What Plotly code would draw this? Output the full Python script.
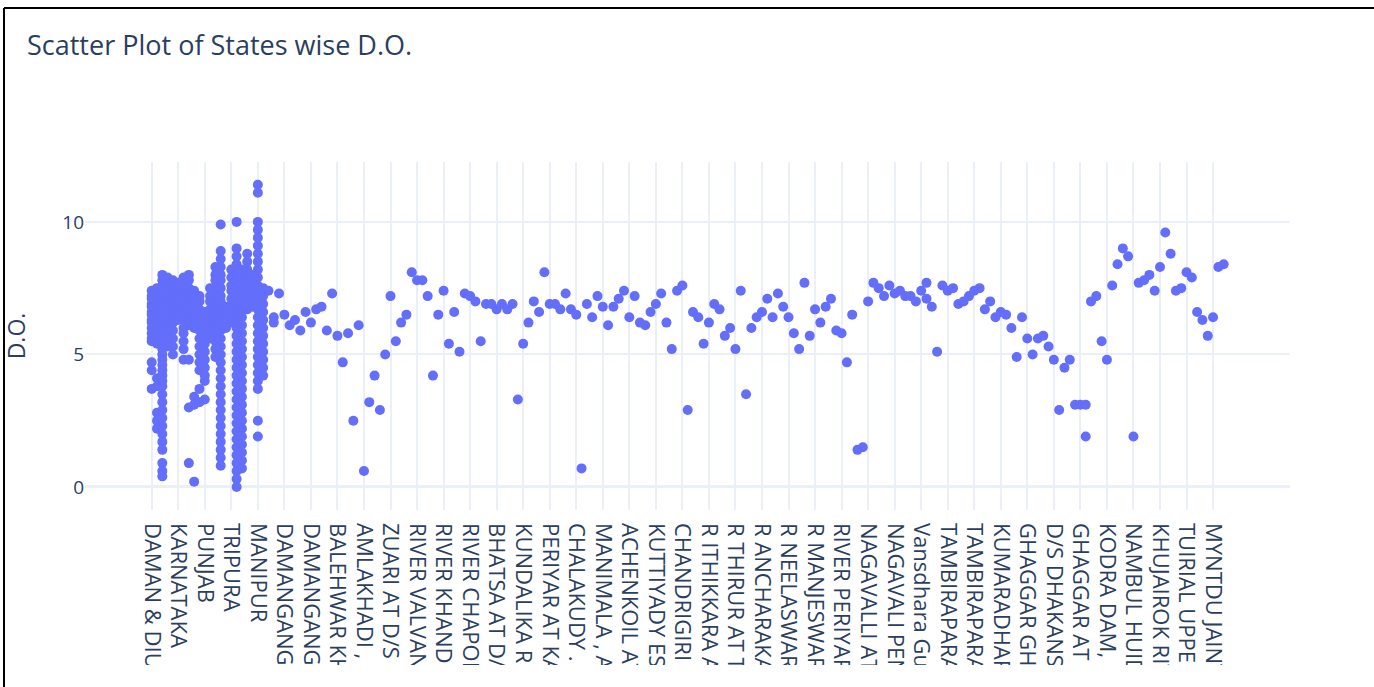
import plotly.graph_objects as go

# ---- State-level sampling columns (many readings per state) ----
state_names = [
    "DAMAN & DIU", "GOA", "MAHARASHTRA", "GUJARAT", "KERALA",
    "KARNATAKA", "TAMILNADU", "ANDHRA PRADESH", "ODISHA", "HIMACHAL PRADESH",
    "PUNJAB", "HARYANA", "RAJASTHAN", "WEST BENGAL", "ASSAM",
    "TRIPURA", "MEGHALAYA", "MIZORAM", "NAGALAND", "ARUNACHAL PRADESH",
    "MANIPUR", "SIKKIM",
]
state_do = [
    [7.4, 7.2, 7.1, 6.9, 6.8, 6.6, 6.5, 6.3, 6.2, 6.0, 5.8, 5.6, 5.5, 4.7, 4.4, 3.7],
    [7.5, 7.3, 7.0, 6.8, 6.6, 6.4, 6.1, 5.9, 5.7, 5.4, 4.1, 3.8, 2.8, 2.5, 2.2],
    [8.0, 7.8, 7.6, 7.4, 7.2, 7.0, 6.8, 6.6, 6.4, 6.2, 6.0, 5.8, 5.6, 5.4, 5.2, 5.0,
     4.8, 4.6, 4.4, 4.2, 4.0, 3.8, 3.5, 3.2, 2.9, 2.6, 2.3, 2.0, 1.7, 1.4, 0.9, 0.6, 0.4],
    [7.9, 7.7, 7.5, 7.2, 7.0, 6.8, 6.6, 6.4, 6.1, 5.9, 5.6, 5.3],
    [7.8, 7.6, 7.3, 7.1, 6.9, 6.6, 6.4, 6.2, 5.9, 5.6, 5.3, 5.0],
    [7.7, 7.5, 7.3, 7.1, 6.9, 6.7, 6.5, 6.3],
    [7.9, 7.6, 7.4, 7.2, 7.0, 6.8, 6.5, 6.3, 6.0, 5.8, 5.5, 5.2, 4.8],
    [8.0, 7.8, 7.5, 7.3, 7.0, 6.8, 6.6, 6.3, 6.1, 4.8, 3.0, 0.9],
    [7.4, 7.2, 7.0, 6.8, 6.5, 6.3, 6.0, 3.4, 3.1, 0.2],
    [7.2, 7.0, 6.7, 6.4, 6.2, 5.9, 5.6, 5.3, 5.0, 4.7, 4.4, 3.7, 3.2],
    [6.6, 6.3, 6.0, 5.7, 5.4, 5.1, 4.8, 4.5, 4.2, 4.0, 3.3],
    [7.5, 7.2, 7.0, 6.7, 6.5, 6.2, 5.9, 5.6],
    [8.3, 8.0, 7.8, 7.5, 7.3, 7.0, 6.8, 6.6, 6.3, 6.1, 5.8, 5.5, 5.2, 4.9],
    [9.9, 8.9, 8.6, 8.3, 8.0, 7.8, 7.5, 7.2, 7.0, 6.7, 6.5, 6.2, 5.9, 5.6, 5.3, 5.0,
     4.7, 4.4, 4.1, 3.8, 3.5, 3.2, 2.9, 2.6, 2.3, 2.0, 1.7, 1.4, 1.1, 0.8],
    [6.8, 6.5, 6.2, 6.0],
    [8.2, 7.9, 7.6, 7.4, 7.1, 6.8, 6.5, 6.2],
    [10.0, 9.0, 8.7, 8.4, 8.1, 7.8, 7.5, 7.2, 6.9, 6.6, 6.3, 6.0, 5.7, 5.4, 5.1, 4.8,
     4.5, 4.2, 3.9, 3.6, 3.3, 3.0, 2.7, 2.4, 2.1, 1.8, 1.5, 1.2, 0.9, 0.6, 0.3, 0.0],
    [8.2, 7.9, 7.6, 7.3, 7.0, 6.7, 6.4, 6.1, 5.8, 5.5, 5.2, 4.9, 4.6, 4.3, 4.0, 3.7,
     3.4, 3.1, 2.8, 2.5, 2.2, 1.9, 1.6, 1.3, 1.0, 0.7],
    [8.8, 8.5, 8.2, 7.9, 7.6, 7.3, 7.0, 6.7],
    [8.0, 7.7, 7.4, 7.1, 6.8],
    [11.4, 11.1, 10.0, 9.7, 9.4, 9.1, 8.8, 8.5, 8.2, 7.9, 7.6, 7.3, 7.0, 6.7, 6.4, 6.1,
     5.8, 5.5, 5.2, 4.9, 4.6, 4.3, 4.0, 3.7, 2.5, 1.9],
    [7.5, 7.2, 6.9, 6.6, 6.3, 6.0, 5.7, 5.4, 5.1, 4.8, 4.5, 4.2],
]

# ---- Individual monitoring locations (one or two readings each) ----
station_names = [
    "DADRA & NAGAR HAVELI", "PUDUCHERRY", "LAKSHADWEEP",
    "DAMANGANGA AT D/S OF MADHUBAN, DAMAN", "KOLAK AT VAPI", "PAR AT PARDI", "AURANGA AT BILIMORA", "PURNA AT NAVSARI",
    "DAMANGANGA AT KACHIGAM, DAMAN", "MINDHOLA AT SACHIN", "TAPI AT SURAT", "KIM AT SAHOL", "NARMADA AT BHARUCH",
    "BALEHWAR KHADI AT SURAT", "MAHI AT KHANPUR", "SABARMATI AT AHMEDABAD", "KHARI AT LALI", "BHADAR AT JETPUR",
    "AMLAKHADI , ANKLESHWAR", "MANDOVI AT PANAJI", "MAPUSA AT MAPUSA", "SAL AT ORLIM", "TALPONA AT CANACONA",
    "ZUARI AT D/S OF PT. WHERE KUMBARJRIA CANAL JOINS ZUARI", "RIVER KUMBARJUA AT CORTALIM", "RIVER MANDOVI AT AMONA",
    "RIVER SINQUERIM AT SINQUERIM", "RIVER ASSONORA AT ASSONORA",
    "RIVER VALVANTI AT SANKHALI", "RIVER BICHOLIM AT BICHOLIM", "RIVER TIRACOL AT TIRACOL",
    "RIVER GALJIBAG AT GALJIBAG", "RIVER SAL AT KHARIWADO",
    "RIVER KHANDEPAR AT OPA", "RIVER MADEI AT USGAO", "RIVER MANDOVI AT NEGHBOUR",
    "RIVER DUDHSAGAR AT DUDHSAGAR", "RIVER ZUARI AT PANCHAWADI",
    "RIVER CHAPORA AT ALORNA", "ULHAS AT MOHANE", "KALU AT ATALE", "VAITARNA AT GHOTI", "PATALGANGA AT KHALAPUR",
    "BHATSA AT D/S OF PISE DAM", "AMBA AT NAGOTHANE", "SAVITRI AT MAHAD", "VASHISHTI AT CHIPLUN", "GODAVARI AT NASIK",
    "KUNDALIKA RIVER AT ROHA", "BHARATHAPUZHA AT PATTAMBI", "CHALIYAR AT KOOLIMADU",
    "KALLADA AT PATHANAPURAM", "PAMBA AT THIRUVALLA",
    "PERIYAR AT KALADY", "MEENACHIL AT PALAI", "MUVATTUPUZHA AT PIRAVOM",
    "KARAMANA AT MOONNATTUMUKKU", "KALLAI AT KALLAI",
    "CHALAKUDY . AT VETTUKADAVU", "KARUVANNUR AT ILLIKKAL", "KECHERI AT KECHERI",
    "PUZHAKKAL AT PUZHAKKAL", "KADALUNDI AT KADALUNDI",
    "MANIMALA , AT KALLOOPPARA", "PAMBA AT PAMBA", "VAMANAPURAM AT VAMANAPURAM",
    "NEYYAR AT NEYYATTINKARA", "KALLADA AT KOLLAM",
    "ACHENKOIL AT THUMPAMON", "VALAPATTANAM AT VALAPATTANAM", "ANJARAKANDY AT KANNUR",
    "MAHE AT MAHE", "KORAPUZHA AT ELATHUR",
    "KUTTIYADY ESTUARY", "MOGRAL AT MOGRAL", "KARIANGODE AT KARIANGODE",
    "UPPALA AT UPPALA", "SHIRIYA AT SHIRIYA",
    "CHANDRIGIRI AT CHEMNAD", "R PERUVAMBA AT PERUVAMBA", "R RAMAPURAM AT RAMAPURAM",
    "R KAVVAYI AT KAVVAYI", "R THEJASWINI AT NILESHWAR",
    "R ITHIKKARA AYOOR", "R KALLADA AT KUNNATHUR", "R PALLIKKAL AT PALLIKKAL",
    "R BHAVANI AT MUKKALI", "R KABINI AT MANANTHAVADY",
    "R THIRUR AT THIRUR", "R PONNANI AT PONNANI", "R KEECHERY AT KUNNAMKULAM",
    "R VALAPATTANAM AT IRIKKUR", "R BAVALI AT BAVALI",
    "R ANCHARAKANDY AT ANCHARAKANDY", "R KUPPAM AT KUPPAM", "R PERUMBA AT PAYYANUR",
    "R KARINGODE AT CHERUPUZHA", "R CHITHARI AT CHITHARI",
    "R NEELASWARAM AT NEELASWARAM", "R KUMBALA AT KUMBALA", "R MOGRAL AT ERIYAL",
    "R SHIRIYA AT ANGADIMOGAR", "R UPPALA AT MANJESWAR",
    "R MANJESWARAM AT MANJESWARAM", "RIVER MUVATTUPUZHA AT VETTIKKATTUMUKKU", "RIVER KALLAR AT PONMUDI",
    "RIVER THODUPUZHA AT THODUPUZHA", "RIVER KARUVANNUR AT KARUVANNUR",
    "RIVER PERIYAR AT ALUVA", "GOSTHANI AT TAGARAPUVALASA", "CHAMPAVATHI AT NELLIMARLA",
    "SUVARNAMUKHI AT SALUR", "VEGAVATHI AT BOBBILI",
    "NAGAVALLI AT THOTAPALLI", "JANJHAVATHI AT RAJYALAKSHMIPURAM", "MAHENDRATANAYA AT PATAPATNAM",
    "BAHUDA AT ICHAPURAM", "VAMSADHARA AT KASHINAGAR",
    "NAGAVALI PENTA BRIDGE", "RUSHIKULYA AT ASKA", "BANSADHARA AT MUNIGUDA",
    "INDRAVATI AT NAWARANGPUR", "KOLAB AT JEYPORE",
    "Vansdhara Gunupur", "PALAR AT VANIYAMBADI", "CAUVERY AT METTUR",
    "BHAVANI AT BHAVANISAGAR", "VAIGAI AT MADURAI",
    "TAMBIRAPARANI AT PAPANASAM", "NOYYAL AT ORATHUPALAYAM", "AMARAVATHI AT KARUR",
    "VAIGAI AT PARAMAKUDI", "SARABANGA AT OMALUR",
    "TAMBIRAPARANI AT TIRUNELVELI", "NETRAVATHI AT BANTWAL", "GURUPURA AT MANGALORE",
    "SHARAVATHI AT HONNAVAR", "KALI AT KARWAR",
    "KUMARADHARA AT UPPINANGADY", "SITANADI AT UDUPI", "SWARNA AT UDUPI",
    "AGHANASHINI AT KUMTA", "GANGAVALI AT ANKOLA",
    "GHAGGAR GHAGGAR AT CHANDIMANDIR", "MARKANDA AT KALA AMB", "SUKHNA CHOE AT TIWANA",
    "PATIALA KI RAO AT SKETRI", "TANGRI AT AMBALA",
    "D/S DHAKANSU NALLAH, GHAGGAR", "SARSUTI AT PEHOWA", "YAMUNA AT HATHNIKUND",
    "WESTERN YAMUNA CANAL AT YAMUNANAGAR", "SUTLEJ AT ROPAR",
    "GHAGGAR AT MUBARAKPUR", "GHAGGAR AT SARDULGARH", "DRAIN NO. 8 AT SONEPAT",
    "SAHIBI AT REWARI", "KRISHNAWATI AT NARNAUL",
    "KODRA DAM, UDAIPUR", "IMPHAL AT MINUTHONG", "IRIL AT LILONG",
    "THOUBAL AT THOUBAL", "LOKTAK LAKE AT SENDRA",
    "NAMBUL HUIDROM", "NAMBUL AT BIJOY GOVINDA", "IMPHAL AT LILONG",
    "WANGJING AT WANGJING", "SEKMAI AT SEKMAI",
    "KHUJAIROK RIVER AT KHUJAIROK", "TLAWNG AT SAIRANG", "TUIRINI AT KHAMRANG",
    "MAT AT SERCHHIP", "TUIVAWL AT BAIDUR",
    "TUIRIAL UPPER AT AIZAWL", "UMIAM AT UMIAM", "UMKHRAH AT SHILLONG",
    "UMSHYRPI AT SHILLONG", "KYRHUHKHLA AT JOWAI",
    "MYNTDU JAINTIA HILLS AT JOWAI", "LUKHA AT KHLIEHRIAT", "UMNGOT AT DAWKI",
]
station_do = [
    [7.4], [6.4, 6.2], [7.3],
    [6.5], [6.1], [6.3], [5.9], [6.6],
    [6.2], [6.7], [6.8], [5.9], [7.3],
    [5.7], [4.7], [5.8], [2.5], [6.1],
    [0.6], [3.2], [4.2], [2.9], [5.0],
    [7.2], [5.5], [6.2], [6.5], [8.1],
    [7.8], [7.8], [7.2], [4.2], [6.5],
    [7.4], [5.4], [6.6], [5.1], [7.3],
    [7.2], [7.0], [5.5], [6.9], [6.9],
    [6.7], [6.9], [6.7], [6.9], [3.3],
    [5.4], [6.2], [7.0], [6.6], [8.1],
    [6.9], [6.9], [6.7], [7.3], [6.7],
    [6.5], [0.7], [6.9], [6.4], [7.2],
    [6.8], [6.1], [6.8], [7.1], [7.4],
    [6.4], [7.2], [6.2], [6.1], [6.6],
    [6.9], [7.3], [6.2], [5.2], [7.4],
    [7.6], [2.9], [6.6], [6.4], [5.4],
    [6.2], [6.9], [6.7], [5.7], [6.0],
    [5.2], [7.4], [3.5], [6.0], [6.4],
    [6.6], [7.1], [6.4], [7.3], [6.8],
    [6.4], [5.8], [5.2], [7.7], [5.7],
    [6.7], [6.2], [6.8], [7.1], [5.9],
    [5.8], [4.7], [6.5], [1.4], [1.5],
    [7.0], [7.7], [7.5], [7.2], [7.6],
    [7.3], [7.4], [7.2], [7.2], [7.0],
    [7.4], [7.7, 7.1], [6.8], [5.1], [7.6],
    [7.4], [7.5], [6.9], [7.0], [7.2],
    [7.4], [7.5], [6.7], [7.0], [6.4],
    [6.6], [6.5], [6.0], [4.9], [6.4],
    [5.6], [5.0], [5.6], [5.7], [5.3],
    [4.8], [2.9], [4.5], [4.8], [3.1],
    [3.1], [3.1, 1.9], [7.0], [7.2], [5.5],
    [4.8], [7.6], [8.4], [9.0], [8.7],
    [1.9], [7.7], [7.8], [8.0], [7.4],
    [8.3], [9.6], [8.8], [7.4], [7.5],
    [8.1], [7.9], [6.6], [6.3], [5.7],
    [6.4], [8.3], [8.4],
]

categories = state_names + station_names
readings = state_do + station_do

xs, ys = [], []
for name, vals in zip(categories, readings):
    for v in vals:
        xs.append(name)
        ys.append(v)

W, H = 1374, 687
ML, MR, MT, MB = 85, 84, 162, 177
PW, PH = W - ML - MR, H - MT - MB


def px_to_paper_x(px):
    return (px - ML) / PW


def px_to_paper_y(py):
    return (H - MB - py) / PH


fig = go.Figure(
    go.Scatter(
        x=xs, y=ys, mode="markers",
        marker=dict(color="#636efa", size=10),
        hovertemplate="%{x}<br>D.O.=%{y}<extra></extra>",
    )
)

fig.update_layout(
    template="plotly_white",
    width=W, height=H,
    margin=dict(l=ML, r=MR, t=MT, b=MB, autoexpand=False),
    font=dict(family="Open Sans, sans-serif", color="#2a3f5f"),
    title=dict(
        text="Scatter Plot of States wise D.O.",
        font=dict(size=27, color="#2a3f5f"),
        x=27 / W, xref="container", xanchor="left",
        y=1 - 46 / H, yref="container", yanchor="middle",
        automargin=False,
    ),
    showlegend=False,
)

fig.update_xaxes(
    type="category",
    categoryorder="array", categoryarray=categories,
    tickmode="linear", tick0=0, dtick=5,
    tickangle=90,
    tickfont=dict(size=22),
    ticklabelstandoff=12,
    range=[-12.57, 214.5],
    gridwidth=1.5,
    automargin=False,
)
fig.update_yaxes(
    range=[-0.87, 12.26],
    tickmode="linear", tick0=0, dtick=5,
    tickfont=dict(size=19),
    title=dict(text="D.O.", font=dict(size=23), standoff=38),
    gridwidth=1.5, zerolinewidth=3,
    automargin=False,
)

shapes = [
    # white band that trims the long rotated labels at the bottom
    dict(type="rect", xref="paper", yref="paper", layer="above",
         x0=px_to_paper_x(-10), x1=px_to_paper_x(W + 10),
         y0=px_to_paper_y(H + 10), y1=px_to_paper_y(665),
         fillcolor="white", line=dict(width=0)),
    # frame lines
    dict(type="line", xref="paper", yref="paper", layer="above",
         x0=px_to_paper_x(4), x1=px_to_paper_x(W + 5),
         y0=px_to_paper_y(8), y1=px_to_paper_y(8),
         line=dict(color="black", width=2)),
    dict(type="line", xref="paper", yref="paper", layer="above",
         x0=px_to_paper_x(4), x1=px_to_paper_x(4),
         y0=px_to_paper_y(8), y1=px_to_paper_y(H + 5),
         line=dict(color="black", width=2)),
]
fig.update_layout(shapes=shapes)

fig.write_html("out.html")
